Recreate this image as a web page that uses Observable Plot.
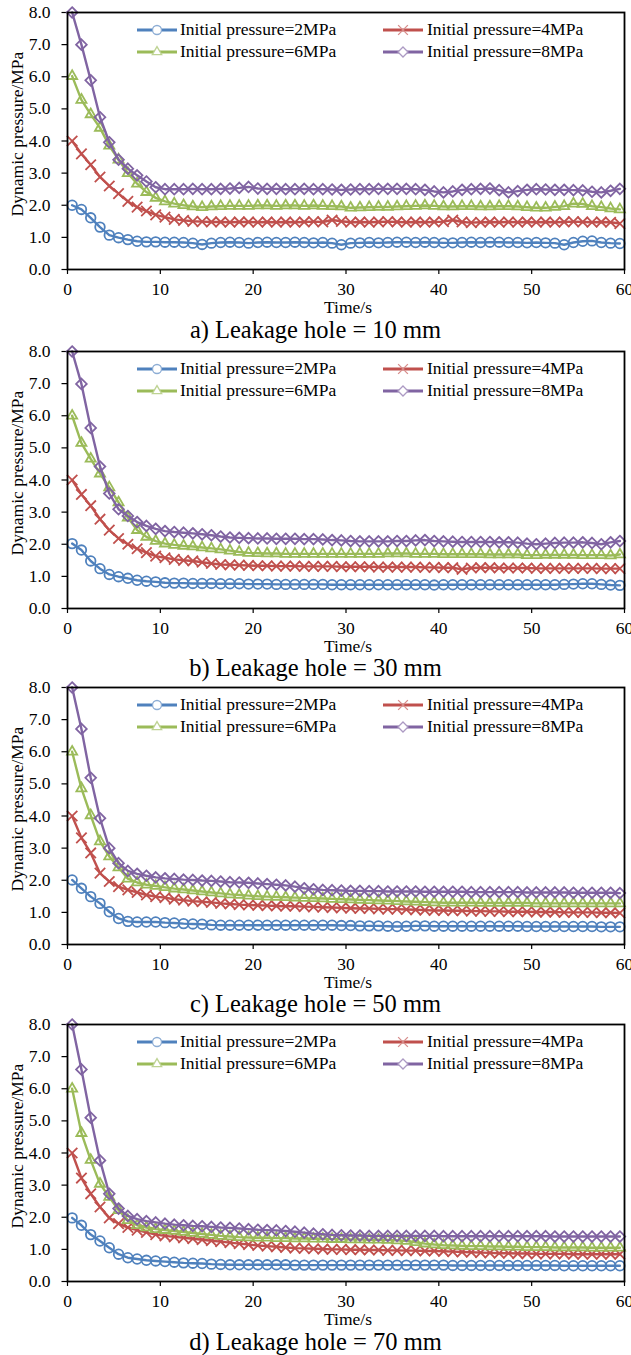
<!DOCTYPE html>
<html>
<head>
<meta charset="utf-8">
<script src="https://cdn.jsdelivr.net/npm/d3@7"></script>
<script src="https://cdn.jsdelivr.net/npm/@observablehq/plot@0.6"></script>
<style>
  html, body { margin: 0; padding: 0; background: #fff; }
  body { width: 631px; height: 1355px; overflow: hidden; position: relative;
         font-family: "Liberation Serif", "Times New Roman", serif; color: #000; }
  .panel { position: absolute; left: 0; width: 631px; height: 338px; }
  .panel svg.plotsvg { position: absolute; left: 0; top: 0; }
  .panel svg.plotsvg text { font-family: "Liberation Serif", "Times New Roman", serif; }
  .abs { position: absolute; white-space: nowrap; line-height: 1; }
  .caption { left: 0; width: 631px; text-align: center; font-size: 24.5px; }
  .xlabel { font-size: 17.5px; transform: translateX(-50%); }
  .ylabel { font-size: 17.5px; transform: translate(-50%, -50%) rotate(-90deg); }
  .legtext { font-size: 17.5px; }
</style>
</head>
<body>
<script>
// ---------- data ----------
const time = [0.5,1.5,2.5,3.5,4.5,5.5,6.5,7.5,8.5,9.5,10.5,11.5,12.5,13.5,14.5,15.5,16.5,17.5,18.5,19.5,
  20.5,21.5,22.5,23.5,24.5,25.5,26.5,27.5,28.5,29.5,30.5,31.5,32.5,33.5,34.5,35.5,36.5,37.5,38.5,39.5,
  40.5,41.5,42.5,43.5,44.5,45.5,46.5,47.5,48.5,49.5,50.5,51.5,52.5,53.5,54.5,55.5,56.5,57.5,58.5,59.5];

const seriesNames = ["Initial pressure=2MPa","Initial pressure=4MPa","Initial pressure=6MPa","Initial pressure=8MPa"];
const seriesColors = ["#4F81BD","#C0504D","#9BBB59","#8064A2"];
const seriesSymbols = ["circle","times","triangle2","diamond2"];
const captions = ["a) Leakage hole = 10 mm","b) Leakage hole = 30 mm","c) Leakage hole = 50 mm","d) Leakage hole = 70 mm"];
const xTicks = [0,10,20,30,40,50,60];
const yTicks = [0,1,2,3,4,5,6,7,8];
const xTitle = "Time/s";
const yTitle = "Dynamic pressure/MPa";

// Leakage hole = 10 mm
const hole10_p2 = [2.00,1.87,1.61,1.32,1.07,0.99,0.93,0.88,0.86,0.86,
  0.85,0.85,0.84,0.82,0.78,0.82,0.84,0.85,0.84,0.82,
  0.84,0.85,0.84,0.84,0.85,0.84,0.83,0.84,0.82,0.77,
  0.82,0.83,0.84,0.83,0.84,0.85,0.85,0.84,0.85,0.84,
  0.83,0.83,0.84,0.85,0.84,0.85,0.85,0.84,0.84,0.83,
  0.84,0.83,0.82,0.77,0.84,0.88,0.89,0.84,0.82,0.81];
const hole10_p4 = [4.00,3.60,3.26,2.88,2.60,2.36,2.12,1.94,1.82,1.70,
  1.63,1.56,1.53,1.50,1.49,1.48,1.48,1.47,1.48,1.48,
  1.47,1.48,1.47,1.48,1.47,1.48,1.49,1.48,1.54,1.50,
  1.47,1.48,1.47,1.48,1.49,1.48,1.47,1.48,1.47,1.48,
  1.49,1.54,1.48,1.46,1.47,1.48,1.47,1.48,1.47,1.48,
  1.47,1.48,1.47,1.48,1.49,1.48,1.47,1.48,1.47,1.43];
const hole10_p6 = [6.02,5.28,4.83,4.41,3.85,3.42,3.00,2.67,2.41,2.23,
  2.12,2.05,2.00,1.96,1.94,1.96,1.97,1.98,1.98,1.98,
  1.99,1.99,1.98,1.99,1.99,1.98,1.99,1.98,1.97,1.96,
  1.92,1.93,1.94,1.95,1.95,1.96,1.97,1.98,1.99,1.98,
  1.96,1.96,1.97,1.97,1.96,1.96,1.97,1.97,1.96,1.94,
  1.92,1.92,1.95,1.97,2.05,2.04,1.97,1.94,1.90,1.87];
const hole10_p8 = [8.00,7.00,5.89,4.74,3.96,3.42,3.14,2.93,2.74,2.56,
  2.50,2.50,2.50,2.51,2.50,2.50,2.51,2.52,2.54,2.57,
  2.52,2.51,2.51,2.50,2.50,2.51,2.50,2.50,2.49,2.48,
  2.49,2.50,2.50,2.51,2.51,2.51,2.51,2.50,2.48,2.43,
  2.40,2.43,2.48,2.50,2.51,2.52,2.47,2.40,2.44,2.48,
  2.50,2.49,2.48,2.48,2.47,2.46,2.42,2.40,2.45,2.51];

// Leakage hole = 30 mm
const hole30_p2 = [2.02,1.82,1.48,1.24,1.06,0.99,0.94,0.88,0.85,0.83,
  0.80,0.79,0.79,0.78,0.78,0.78,0.77,0.77,0.77,0.76,
  0.76,0.76,0.75,0.75,0.75,0.75,0.75,0.75,0.74,0.74,
  0.74,0.74,0.74,0.74,0.74,0.74,0.74,0.74,0.74,0.73,
  0.74,0.74,0.74,0.74,0.74,0.74,0.74,0.74,0.74,0.74,
  0.74,0.74,0.74,0.75,0.76,0.77,0.77,0.75,0.73,0.72];
const hole30_p4 = [4.00,3.55,3.20,2.78,2.44,2.18,2.00,1.86,1.74,1.63,
  1.58,1.53,1.50,1.48,1.44,1.40,1.37,1.36,1.35,1.34,
  1.33,1.33,1.32,1.32,1.32,1.31,1.31,1.31,1.31,1.30,
  1.30,1.30,1.30,1.29,1.29,1.29,1.29,1.29,1.28,1.28,
  1.27,1.27,1.22,1.26,1.27,1.27,1.26,1.26,1.26,1.26,
  1.25,1.25,1.25,1.25,1.25,1.25,1.25,1.24,1.24,1.24];
const hole30_p6 = [6.00,5.15,4.66,4.20,3.77,3.30,2.83,2.44,2.23,2.10,
  2.02,1.98,1.95,1.93,1.90,1.87,1.84,1.80,1.76,1.73,
  1.72,1.71,1.71,1.70,1.70,1.70,1.70,1.70,1.70,1.70,
  1.70,1.70,1.70,1.70,1.71,1.71,1.71,1.70,1.70,1.70,
  1.69,1.69,1.69,1.69,1.69,1.68,1.68,1.68,1.68,1.66,
  1.66,1.67,1.67,1.67,1.67,1.66,1.66,1.66,1.65,1.68];
const hole30_p8 = [8.00,6.99,5.62,4.42,3.58,3.09,2.88,2.69,2.57,2.48,
  2.41,2.38,2.36,2.34,2.31,2.28,2.24,2.21,2.20,2.19,
  2.18,2.18,2.17,2.17,2.17,2.16,2.16,2.15,2.13,2.12,
  2.10,2.09,2.09,2.09,2.09,2.10,2.10,2.12,2.13,2.10,
  2.09,2.08,2.07,2.07,2.07,2.07,2.06,2.06,2.05,2.02,
  2.00,2.02,2.04,2.05,2.05,2.06,2.04,2.00,2.06,2.10];

// Leakage hole = 50 mm
const hole50_p2 = [2.01,1.75,1.49,1.28,1.02,0.81,0.72,0.70,0.70,0.70,
  0.68,0.67,0.65,0.64,0.63,0.61,0.60,0.60,0.60,0.60,
  0.60,0.60,0.60,0.60,0.60,0.60,0.60,0.60,0.60,0.59,
  0.59,0.58,0.58,0.58,0.57,0.56,0.57,0.58,0.58,0.57,
  0.57,0.57,0.57,0.57,0.57,0.57,0.57,0.57,0.57,0.56,
  0.56,0.56,0.56,0.56,0.56,0.56,0.56,0.55,0.55,0.55];
const hole50_p4 = [4.00,3.32,2.85,2.22,1.96,1.80,1.70,1.62,1.54,1.49,
  1.46,1.41,1.38,1.35,1.33,1.31,1.28,1.26,1.24,1.23,
  1.22,1.21,1.20,1.19,1.19,1.18,1.17,1.16,1.15,1.14,
  1.13,1.12,1.12,1.11,1.10,1.10,1.09,1.08,1.07,1.06,
  1.06,1.05,1.05,1.04,1.04,1.03,1.03,1.02,1.02,1.02,
  1.01,1.01,1.01,1.00,1.00,1.00,1.00,0.99,0.99,0.98];
const hole50_p6 = [6.00,4.86,4.02,3.21,2.74,2.40,2.05,1.93,1.86,1.82,
  1.78,1.74,1.71,1.68,1.65,1.62,1.59,1.56,1.54,1.52,
  1.50,1.49,1.48,1.47,1.46,1.45,1.44,1.43,1.42,1.41,
  1.40,1.39,1.38,1.37,1.36,1.35,1.34,1.33,1.32,1.31,
  1.30,1.30,1.30,1.30,1.29,1.29,1.29,1.29,1.29,1.29,
  1.28,1.28,1.28,1.28,1.28,1.28,1.28,1.28,1.28,1.28];
const hole50_p8 = [8.00,6.71,5.19,3.93,3.00,2.53,2.29,2.20,2.14,2.09,
  2.06,2.04,2.02,2.01,1.99,1.98,1.96,1.94,1.93,1.92,
  1.90,1.88,1.86,1.84,1.80,1.75,1.72,1.70,1.69,1.68,
  1.67,1.67,1.66,1.66,1.65,1.65,1.65,1.65,1.64,1.64,
  1.64,1.64,1.64,1.63,1.63,1.63,1.63,1.63,1.63,1.62,
  1.62,1.62,1.62,1.62,1.61,1.61,1.61,1.61,1.61,1.60];

// Leakage hole = 70 mm
const hole70_p2 = [1.98,1.75,1.46,1.26,1.05,0.85,0.74,0.70,0.66,0.64,
  0.62,0.60,0.58,0.57,0.56,0.54,0.53,0.52,0.52,0.52,
  0.52,0.52,0.52,0.52,0.51,0.51,0.51,0.51,0.51,0.51,
  0.51,0.51,0.51,0.51,0.51,0.51,0.51,0.51,0.51,0.51,
  0.51,0.50,0.50,0.50,0.50,0.50,0.50,0.50,0.50,0.50,
  0.50,0.50,0.50,0.49,0.49,0.49,0.49,0.49,0.49,0.49];
const hole70_p4 = [4.00,3.22,2.73,2.32,1.98,1.80,1.68,1.60,1.53,1.46,
  1.42,1.39,1.36,1.33,1.30,1.27,1.24,1.21,1.18,1.15,
  1.12,1.10,1.08,1.06,1.04,1.03,1.02,1.01,1.00,1.00,
  0.99,0.99,0.98,0.98,0.97,0.97,0.96,0.96,0.95,0.95,
  0.94,0.93,0.92,0.91,0.90,0.89,0.88,0.88,0.87,0.87,
  0.86,0.86,0.86,0.86,0.85,0.85,0.85,0.85,0.85,0.85];
const hole70_p6 = [6.00,4.62,3.78,3.04,2.63,2.22,1.91,1.75,1.68,1.63,
  1.60,1.57,1.54,1.51,1.48,1.45,1.42,1.40,1.38,1.37,
  1.36,1.36,1.35,1.35,1.34,1.34,1.33,1.33,1.32,1.32,
  1.31,1.31,1.30,1.30,1.29,1.28,1.26,1.22,1.18,1.15,
  1.13,1.12,1.11,1.10,1.10,1.09,1.09,1.08,1.08,1.07,
  1.07,1.07,1.06,1.06,1.06,1.06,1.05,1.05,1.05,1.05];
const hole70_p8 = [8.00,6.60,5.10,3.77,2.73,2.27,2.04,1.94,1.88,1.84,
  1.80,1.77,1.75,1.73,1.72,1.70,1.68,1.67,1.65,1.63,
  1.61,1.60,1.59,1.57,1.55,1.52,1.49,1.47,1.45,1.44,
  1.43,1.43,1.42,1.42,1.42,1.42,1.42,1.42,1.42,1.42,
  1.41,1.41,1.41,1.41,1.41,1.41,1.41,1.41,1.41,1.41,
  1.41,1.41,1.40,1.40,1.40,1.40,1.40,1.40,1.40,1.40];

const panelSeries = [
  [hole10_p2, hole10_p4, hole10_p6, hole10_p8],
  [hole30_p2, hole30_p4, hole30_p6, hole30_p8],
  [hole50_p2, hole50_p4, hole50_p6, hole50_p8],
  [hole70_p2, hole70_p4, hole70_p6, hole70_p8]
];

// ---------- layout ----------
const panelTops = [0, 338.5, 674.5, 1012];
const fontStack = '"Liberation Serif", "Times New Roman", serif';
const M = {top: 12, bottom: 31, left: 67, right: 7};
const W = 631, H = 300;

function symbolPath(name, r) {
  const map = {circle: d3.symbolCircle, times: d3.symbolTimes, triangle2: d3.symbolTriangle2, diamond2: d3.symbolDiamond2};
  return d3.symbol(map[name], r * r * Math.PI)();
}

panelSeries.forEach((series, pi) => {
  const panel = document.createElement("div");
  panel.className = "panel";
  panel.style.top = panelTops[pi] + "px";
  document.body.appendChild(panel);

  const rows = [];
  series.forEach((vals, si) => vals.forEach((v, k) => rows.push({t: time[k], p: v, s: seriesNames[si]})));

  const marks = [
    Plot.axisX({ticks: xTicks, tickSize: 5, tickPadding: 8.5, label: null, tickFormat: d => String(d),
      fontSize: 17.5, fontFamily: fontStack, stroke: "black", strokeWidth: 1.2}),
    Plot.axisY({ticks: yTicks, tickSize: 5.5, tickPadding: 11.5, label: null, tickFormat: d3.format(".1f"),
      fontSize: 17.5, fontFamily: fontStack, stroke: "black", strokeWidth: 1.2})
  ];
  seriesNames.forEach(name => {
    const sub = rows.filter(d => d.s === name);
    marks.push(Plot.line(sub, {x: "t", y: "p", stroke: "s", strokeWidth: 2.4}));
    marks.push(Plot.dot(sub, {x: "t", y: "p", stroke: "s", symbol: "s", r: 4.8, strokeWidth: 1.8, fill: "none"}));
  });
  marks.push(Plot.frame({stroke: "black", strokeWidth: 1.8}));

  const chart = Plot.plot({
    width: W, height: H,
    marginTop: M.top, marginBottom: M.bottom, marginLeft: M.left, marginRight: M.right,
    x: {domain: [0, 60]},
    y: {domain: [0, 8]},
    color: {domain: seriesNames, range: seriesColors},
    symbol: {domain: seriesNames, range: seriesSymbols},
    style: {fontFamily: fontStack, fontSize: "17.5px", color: "black", background: "transparent", overflow: "visible"},
    marks
  });
  chart.classList.add("plotsvg");
  panel.appendChild(chart);

  // y title
  const yl = document.createElement("div");
  yl.className = "abs ylabel";
  yl.textContent = yTitle;
  yl.style.left = "18px"; yl.style.top = "134px";
  panel.appendChild(yl);

  // x title
  const xl = document.createElement("div");
  xl.className = "abs xlabel";
  xl.textContent = xTitle;
  xl.style.left = "348px"; xl.style.top = (308 - 8.75) + "px";
  panel.appendChild(xl);

  // caption
  const cap = document.createElement("div");
  cap.className = "abs caption";
  cap.textContent = captions[pi];
  cap.style.top = (330 - 12.25) + "px";
  panel.appendChild(cap);

  // legend
  const swLeft = [137, 383], txtLeft = [180, 427], rowY = [30, 52];
  seriesNames.forEach((name, si) => {
    const col = si % 2, row = Math.floor(si / 2);
    const ns = "http://www.w3.org/2000/svg";
    const sw = document.createElementNS(ns, "svg");
    sw.setAttribute("width", 40); sw.setAttribute("height", 14);
    sw.style.position = "absolute";
    sw.style.left = swLeft[col] + "px";
    sw.style.top = (rowY[row] - 7) + "px";
    sw.style.overflow = "visible";
    const ln = document.createElementNS(ns, "line");
    ln.setAttribute("x1", 0); ln.setAttribute("x2", 40); ln.setAttribute("y1", 7); ln.setAttribute("y2", 7);
    ln.setAttribute("stroke", seriesColors[si]); ln.setAttribute("stroke-width", 2.8);
    sw.appendChild(ln);
    const mk = document.createElementNS(ns, "path");
    mk.setAttribute("d", symbolPath(seriesSymbols[si], 4.5));
    mk.setAttribute("transform", "translate(20,7)");
    mk.setAttribute("fill", "white");
    mk.setAttribute("stroke", d3.interpolateRgb(seriesColors[si], "white")(0.35));
    mk.setAttribute("stroke-width", 1.3);
    sw.appendChild(mk);
    panel.appendChild(sw);

    const tx = document.createElement("div");
    tx.className = "abs legtext";
    tx.textContent = name;
    tx.style.left = txtLeft[col] + "px";
    tx.style.top = (rowY[row] - 8.75) + "px";
    panel.appendChild(tx);
  });
});
</script>
</body>
</html>
